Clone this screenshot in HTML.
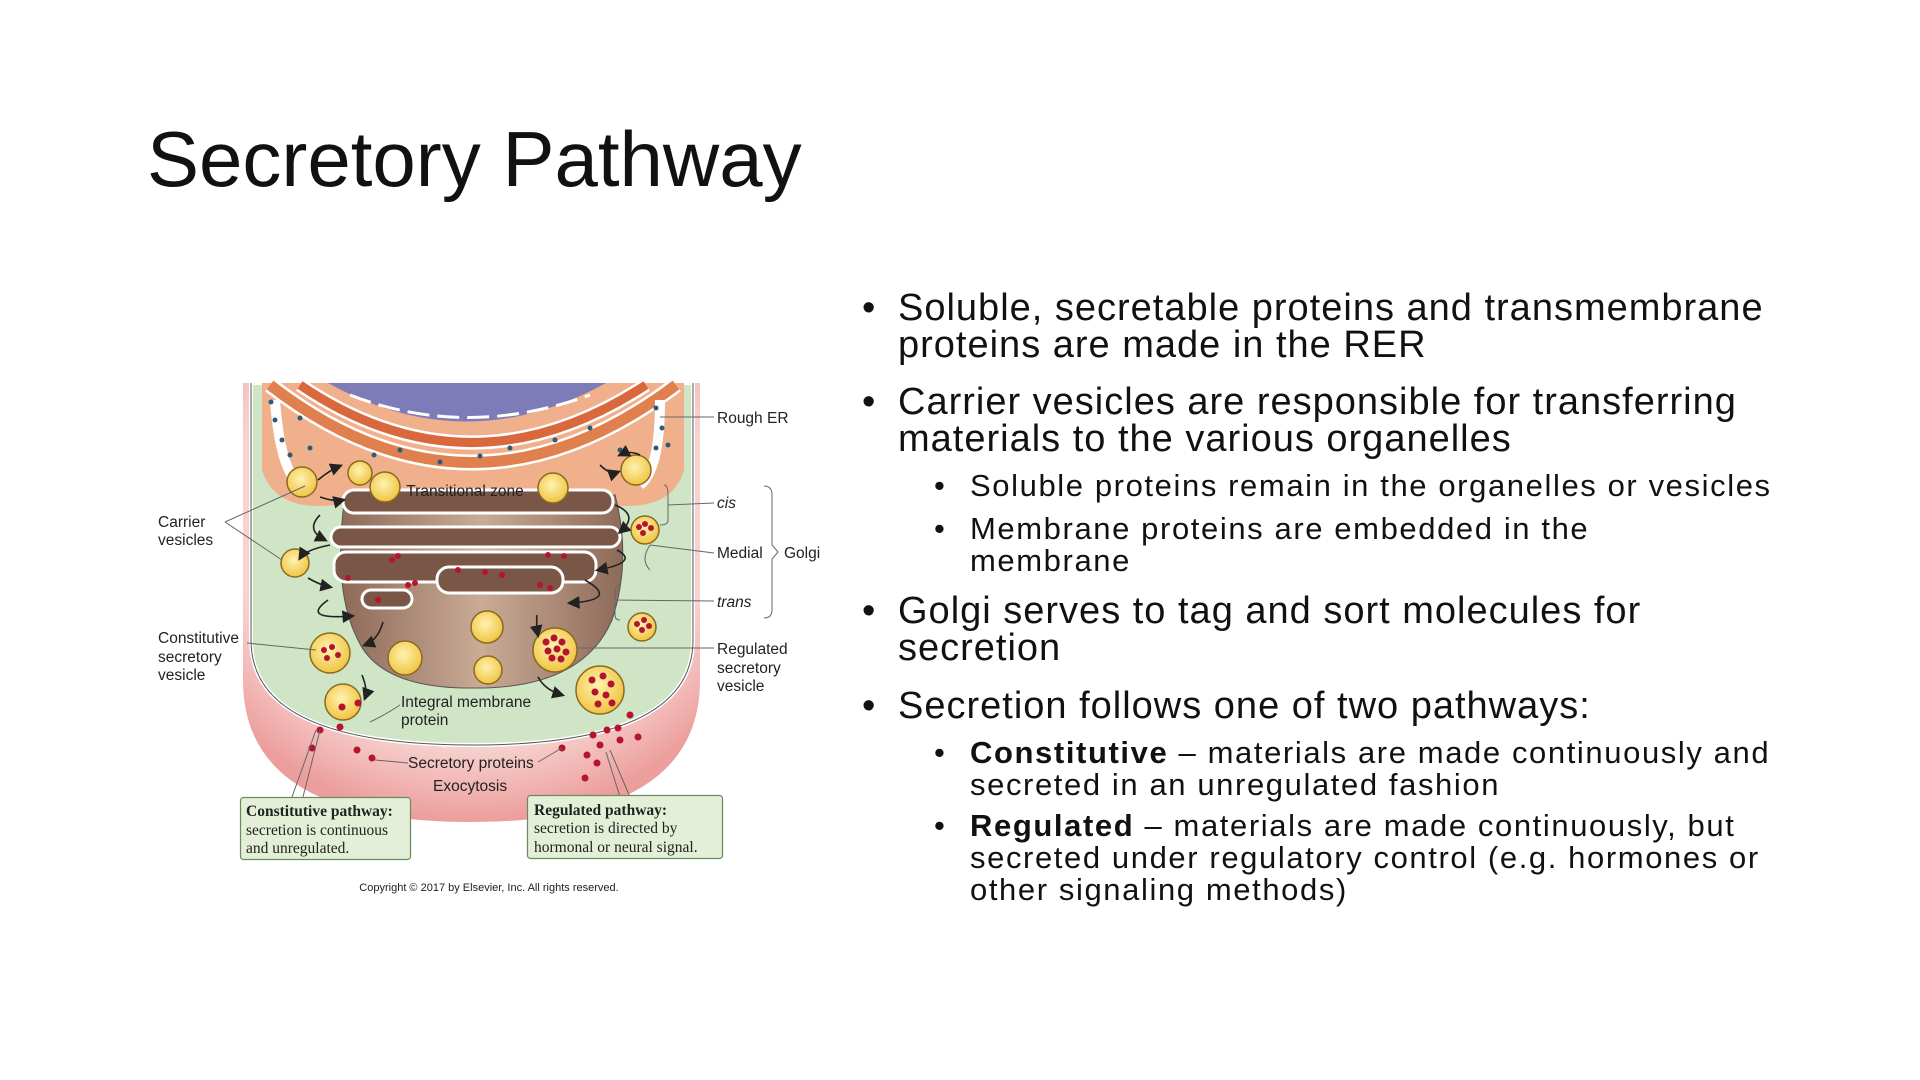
<!DOCTYPE html>
<html><head><meta charset="utf-8"><style>
html,body{margin:0;padding:0;background:#fff;}
body{width:1920px;height:1080px;position:relative;overflow:hidden;font-family:"Liberation Sans",sans-serif;color:#111;}
.t{position:absolute;white-space:nowrap;line-height:1;}
.L{font-size:38px;letter-spacing:1px;}
.S{font-size:31px;letter-spacing:1.6px;}
.b{position:absolute;line-height:1;}
</style></head><body>
<div class="t" style="left:147px;top:120px;font-size:78px;color:#111;">Secretory Pathway</div>

<div class="b L" style="left:862px;top:289px;">•</div>
<div class="t L" style="left:898px;top:289px;">Soluble, secretable proteins and transmembrane</div>
<div class="t L" style="left:898px;top:326px;">proteins are made in the RER</div>
<div class="b L" style="left:862px;top:383px;">•</div>
<div class="t L" style="left:898px;top:383px;">Carrier vesicles are responsible for transferring</div>
<div class="t L" style="left:898px;top:420px;">materials to the various organelles</div>
<div class="b S" style="left:934px;top:470px;">•</div>
<div class="t S" style="left:970px;top:470px;">Soluble proteins remain in the organelles or vesicles</div>
<div class="b S" style="left:934px;top:513px;">•</div>
<div class="t S" style="left:970px;top:513px;">Membrane proteins are embedded in the</div>
<div class="t S" style="left:970px;top:545px;">membrane</div>
<div class="b L" style="left:862px;top:592px;">•</div>
<div class="t L" style="left:898px;top:592px;">Golgi serves to tag and sort molecules for</div>
<div class="t L" style="left:898px;top:629px;">secretion</div>
<div class="b L" style="left:862px;top:687px;">•</div>
<div class="t L" style="left:898px;top:687px;">Secretion follows one of two pathways:</div>
<div class="b S" style="left:934px;top:737px;">•</div>
<div class="t S" style="left:970px;top:737px;"><b>Constitutive</b> – materials are made continuously and</div>
<div class="t S" style="left:970px;top:769px;">secreted in an unregulated fashion</div>
<div class="b S" style="left:934px;top:810px;">•</div>
<div class="t S" style="left:970px;top:810px;"><b>Regulated</b> – materials are made continuously, but</div>
<div class="t S" style="left:970px;top:842px;">secreted under regulatory control (e.g. hormones or</div>
<div class="t S" style="left:970px;top:874px;">other signaling methods)</div>

<svg width="1920" height="1080" style="position:absolute;left:0;top:0" xmlns="http://www.w3.org/2000/svg">
<defs>
<radialGradient id="pk" cx="50%" cy="30%" r="70%"><stop offset="0.75" stop-color="#f7d3d0"/><stop offset="1" stop-color="#ec9e9c"/></radialGradient>
<radialGradient id="yl" cx="45%" cy="40%" r="60%"><stop offset="0" stop-color="#fff2b0"/><stop offset="1" stop-color="#f0c442"/></radialGradient>
<linearGradient id="br" x1="0" x2="1"><stop offset="0" stop-color="#8e6a58"/><stop offset="0.5" stop-color="#c9ab96"/><stop offset="1" stop-color="#8e6a58"/></linearGradient>
<marker id="ar" markerWidth="8" markerHeight="8" refX="6" refY="4" orient="auto"><path d="M0,0 L8,4 L0,8 Z" fill="#222"/></marker>
</defs>
<path d="M243,383 L243,680 Q243,822 471,822 Q700,822 700,680 L700,383 Z" fill="url(#pk)"/>
<path d="M251,383 L251,640 Q251,745 472,745 Q693,745 693,640 L693,383 Z" fill="#cfe5c6" stroke="#fff" stroke-width="4"/>
<path d="M251,383 L251,640 Q251,745 472,745 Q693,745 693,640 L693,383" fill="none" stroke="#555" stroke-width="1"/>
<path d="M262,383 L262,470 Q275,512 335,505 L610,505 Q672,512 684,470 L684,383 Z" fill="#f1b08c"/>
<path d="M270,385 Q470,540 676,385" fill="none" stroke="#fff" stroke-width="16"/>
<path d="M270,385 Q470,540 676,385" fill="none" stroke="#e0804f" stroke-width="11"/>
<path d="M300,385 Q470,500 646,385" fill="none" stroke="#fff" stroke-width="14"/>
<path d="M300,385 Q470,500 646,385" fill="none" stroke="#d9683c" stroke-width="9"/>
<path d="M275,400 Q280,470 300,485" fill="none" stroke="#fff" stroke-width="10"/>
<path d="M660,400 Q660,470 640,485" fill="none" stroke="#fff" stroke-width="10"/>
<path d="M328,383 Q466,460 606,383 Z" fill="#7d7cb8"/>
<path d="M350,395 Q466,440 590,395" fill="none" stroke="#fff" stroke-width="3" stroke-dasharray="22 8"/>
<g fill="#2c5a78">
<circle cx="271" cy="402" r="2.5"/><circle cx="275" cy="420" r="2.5"/><circle cx="282" cy="440" r="2.5"/><circle cx="290" cy="455" r="2.5"/><circle cx="300" cy="418" r="2.5"/><circle cx="310" cy="448" r="2.5"/>
<circle cx="374" cy="455" r="2.5"/><circle cx="400" cy="450" r="2.5"/><circle cx="440" cy="462" r="2.5"/><circle cx="480" cy="456" r="2.5"/><circle cx="510" cy="448" r="2.5"/><circle cx="555" cy="440" r="2.5"/><circle cx="590" cy="428" r="2.5"/>
<circle cx="656" cy="408" r="2.5"/><circle cx="662" cy="428" r="2.5"/><circle cx="656" cy="448" r="2.5"/><circle cx="668" cy="445" r="2.5"/><circle cx="620" cy="450" r="2.5"/>
</g>
<path d="M345,495 L615,495 Q632,560 612,620 Q582,690 470,688 Q380,688 358,640 Q332,590 345,495 Z" fill="url(#br)" stroke="#555" stroke-width="1"/>
<g stroke="#fff" stroke-width="3" fill="#7a5646">
<rect x="343" y="490" width="270" height="23" rx="11"/>
<rect x="331" y="527" width="289" height="20" rx="10"/>
<rect x="334" y="552" width="262" height="30" rx="12"/>
<rect x="437" y="567" width="126" height="26" rx="12"/>
<rect x="362" y="590" width="50" height="18" rx="9"/>
</g>
<g stroke="#8a6a20" stroke-width="1.5" fill="url(#yl)">
<circle cx="302" cy="482" r="15"/><circle cx="295" cy="563" r="14"/><circle cx="636" cy="470" r="15"/>
<circle cx="645" cy="530" r="14"/><circle cx="642" cy="627" r="14"/><circle cx="555" cy="650" r="22"/>
<circle cx="330" cy="653" r="20"/><circle cx="487" cy="627" r="16"/><circle cx="405" cy="658" r="17"/>
<circle cx="488" cy="670" r="14"/><circle cx="385" cy="487" r="15"/><circle cx="553" cy="488" r="15"/>
<circle cx="360" cy="473" r="12"/><circle cx="343" cy="702" r="18"/><circle cx="600" cy="690" r="24"/>
</g>
<g fill="#b5142e">
<circle cx="639" cy="527" r="3"/><circle cx="645" cy="524" r="3"/><circle cx="651" cy="528" r="3"/><circle cx="643" cy="533" r="3"/>
<circle cx="637" cy="624" r="3"/><circle cx="644" cy="620" r="3"/><circle cx="649" cy="626" r="3"/><circle cx="642" cy="630" r="3"/>
<circle cx="546" cy="642" r="3.5"/><circle cx="554" cy="638" r="3.5"/><circle cx="562" cy="642" r="3.5"/><circle cx="548" cy="651" r="3.5"/><circle cx="557" cy="649" r="3.5"/><circle cx="566" cy="652" r="3.5"/><circle cx="552" cy="658" r="3.5"/><circle cx="561" cy="659" r="3.5"/>
<circle cx="324" cy="650" r="3"/><circle cx="332" cy="647" r="3"/><circle cx="338" cy="655" r="3"/><circle cx="327" cy="658" r="3"/>
<circle cx="592" cy="680" r="3.5"/><circle cx="603" cy="676" r="3.5"/><circle cx="611" cy="684" r="3.5"/><circle cx="595" cy="692" r="3.5"/><circle cx="606" cy="695" r="3.5"/><circle cx="598" cy="704" r="3.5"/><circle cx="612" cy="703" r="3.5"/>
<circle cx="392" cy="560" r="3"/><circle cx="398" cy="556" r="3"/><circle cx="348" cy="578" r="3"/><circle cx="408" cy="585" r="3"/><circle cx="415" cy="583" r="3"/><circle cx="548" cy="555" r="3"/><circle cx="564" cy="556" r="3"/><circle cx="458" cy="570" r="3"/><circle cx="485" cy="572" r="3"/><circle cx="502" cy="575" r="3"/><circle cx="540" cy="585" r="3"/><circle cx="550" cy="588" r="3"/><circle cx="378" cy="600" r="3"/>
<circle cx="320" cy="730" r="3.5"/><circle cx="340" cy="727" r="3.5"/><circle cx="312" cy="748" r="3.5"/><circle cx="357" cy="750" r="3.5"/><circle cx="372" cy="758" r="3.5"/><circle cx="342" cy="707" r="3.5"/><circle cx="358" cy="703" r="3.5"/>
<circle cx="562" cy="748" r="3.5"/><circle cx="593" cy="735" r="3.5"/><circle cx="607" cy="730" r="3.5"/><circle cx="618" cy="728" r="3.5"/><circle cx="630" cy="715" r="3.5"/><circle cx="638" cy="737" r="3.5"/><circle cx="600" cy="745" r="3.5"/><circle cx="620" cy="740" r="3.5"/><circle cx="587" cy="755" r="3.5"/><circle cx="597" cy="763" r="3.5"/><circle cx="585" cy="778" r="3.5"/>
</g>
<g fill="none" stroke="#222" stroke-width="1.6" marker-end="url(#ar)">
<path d="M318,480 Q330,470 340,466"/><path d="M320,497 Q335,502 343,500"/><path d="M320,515 Q305,530 325,540"/>
<path d="M330,545 Q305,550 300,558"/><path d="M308,578 Q320,585 330,587"/><path d="M328,600 Q300,620 352,616"/>
<path d="M383,622 Q378,640 365,645"/><path d="M362,675 Q368,690 365,698"/><path d="M538,677 Q545,690 562,695"/>
<path d="M537,615 Q536,625 538,635"/><path d="M600,465 Q610,475 618,472"/><path d="M615,505 Q640,515 620,532"/>
<path d="M617,550 Q640,562 598,570"/><path d="M585,580 Q620,600 570,603"/><path d="M640,455 Q630,450 620,455"/>
</g>
<g stroke="#666" stroke-width="1" fill="none">
<path d="M660,417 L714,417"/>
<path d="M664,485 Q668,485 668,495 L668,505 L714,503 M668,505 L668,520 Q668,525 660,525"/>
<path d="M650,545 L714,553 M650,545 Q640,560 650,570"/>
<path d="M620,585 Q615,585 615,595 L615,600 L714,601 M615,602 L615,615 Q615,620 620,620"/>
<path d="M577,648 L714,648"/>
<path d="M764,486 Q772,486 772,495 L772,545 L778,552 L772,559 L772,610 Q772,618 764,618"/>
<path d="M225,522 L305,486 M225,522 L282,560"/>
<path d="M247,643 L316,650"/>
<path d="M400,705 Q385,715 370,722"/>
<path d="M408,763 L375,760"/><path d="M538,762 L562,748"/>
<path d="M320,730 L303,797 M316,730 L292,797"/>
<path d="M610,750 L630,797 M606,752 L620,797"/>
</g>
<rect x="240.5" y="797.5" width="170" height="62" rx="3" fill="#e3efd6" stroke="#6b8a5e" stroke-width="1.2"/>
<rect x="527.5" y="795.5" width="195" height="63" rx="3" fill="#e3efd6" stroke="#6b8a5e" stroke-width="1.2"/>
<g font-family="Liberation Serif, serif" font-size="15.5" fill="#222">
<text x="246" y="816" font-weight="bold">Constitutive pathway:</text>
<text x="246" y="835">secretion is continuous</text>
<text x="246" y="853">and unregulated.</text>
<text x="534" y="815" font-weight="bold">Regulated pathway:</text>
<text x="534" y="833">secretion is directed by</text>
<text x="534" y="852">hormonal or neural signal.</text>
</g>
<g font-family="Liberation Sans, sans-serif" font-size="15.5" fill="#222">
<text x="717" y="423">Rough ER</text>
<text x="717" y="508" font-style="italic">cis</text>
<text x="717" y="558">Medial</text>
<text x="784" y="558">Golgi</text>
<text x="717" y="607" font-style="italic">trans</text>
<text x="717" y="654">Regulated</text>
<text x="717" y="673">secretory</text>
<text x="717" y="691">vesicle</text>
<text x="158" y="527">Carrier</text>
<text x="158" y="545">vesicles</text>
<text x="158" y="643">Constitutive</text>
<text x="158" y="662">secretory</text>
<text x="158" y="680">vesicle</text>
<text x="465" y="496" text-anchor="middle">Transitional zone</text>
<text x="401" y="707">Integral membrane</text>
<text x="401" y="725">protein</text>
<text x="408" y="768">Secretory proteins</text>
<text x="433" y="791">Exocytosis</text>
<text x="489" y="891" text-anchor="middle" font-size="11">Copyright © 2017 by Elsevier, Inc. All rights reserved.</text>
</g>
</svg>
</body></html>
